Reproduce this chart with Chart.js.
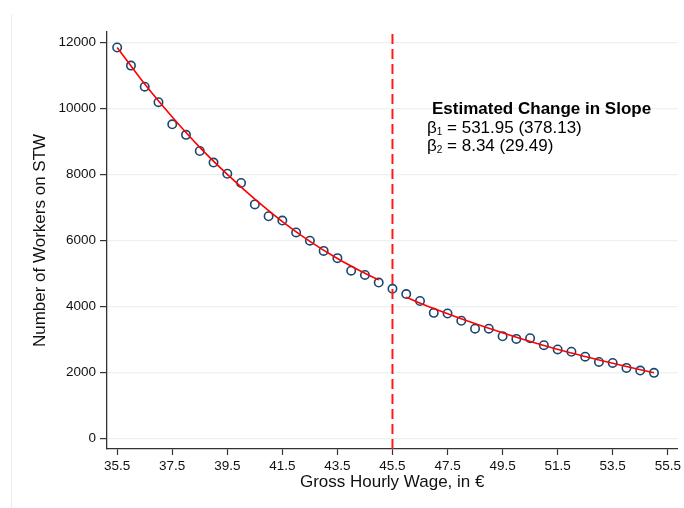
<!DOCTYPE html>
<html>
<head>
<meta charset="utf-8">
<script src="https://cdn.jsdelivr.net/npm/chart.js@4/dist/chart.umd.min.js"></script>
<style>
  body { margin: 0; background: #fff; }
  canvas { display: block; }
</style>
</head>
<body>
<canvas id="stwChart" width="684" height="508"></canvas>
<script>
// binned wage (x) and number of workers on short-time work (y)
const wage = [35.5, 36, 36.5, 37, 37.5, 38, 38.5, 39, 39.5, 40,
  40.5, 41, 41.5, 42, 42.5, 43, 43.5, 44, 44.5, 45,
  45.5, 46, 46.5, 47, 47.5, 48, 48.5, 49, 49.5, 50,
  50.5, 51, 51.5, 52, 52.5, 53, 53.5, 54, 54.5, 55];
const workers = [11850, 11300, 10660, 10190, 9520, 9200, 8710, 8360, 8020, 7740,
  7090, 6730, 6600, 6240, 5990, 5680, 5460, 5080, 4950, 4720,
  4530, 4370, 4160, 3800, 3780, 3560, 3320, 3320, 3090, 3010,
  3030, 2820, 2690, 2620, 2470, 2310, 2280, 2130, 2050, 1980];

// fitted curves left and right of the cutoff
const fitLeftX = [35.5, 36.5, 37.5, 38.5, 39.5, 40.5, 41.5, 42.5, 43.5, 44.5, 45];
const fitLeftY = [11850, 10740, 9740, 8820, 8000, 7250, 6570, 5970, 5450, 5000, 4800];
const fitRightX = [46, 47, 48, 49, 50, 51, 52, 53, 54, 55];
const fitRightY = [4270, 3930, 3620, 3330, 3060, 2810, 2580, 2370, 2170, 1985];

const cutoff = 45.5;
const xTicks = [35.5, 37.5, 39.5, 41.5, 43.5, 45.5, 47.5, 49.5, 51.5, 53.5, 55.5];
const yTicks = [0, 2000, 4000, 6000, 8000, 10000, 12000];
const yMin = -330, yMax = 12320;
const xMin = 35.13, xMax = 55.85;

const FONT = "'Liberation Sans', Arial, sans-serif";
const toXY = (xs, ys) => xs.map((x, i) => ({ x: x, y: ys[i] }));

// faint frame line on the left + the estimates text box
const extras = {
  id: 'extras',
  beforeDraw(chart) {
    const ctx = chart.ctx;
    ctx.save();
    ctx.fillStyle = '#fff';
    ctx.fillRect(0, 0, chart.width, chart.height);
    ctx.strokeStyle = '#e9eff1';
    ctx.lineWidth = 1;
    ctx.beginPath();
    ctx.moveTo(11.5, 14);
    ctx.lineTo(11.5, 508);
    ctx.stroke();
    ctx.restore();
  },
  afterDraw(chart) {
    const ctx = chart.ctx;
    ctx.save();
    ctx.fillStyle = '#000';
    ctx.textBaseline = 'alphabetic';
    ctx.font = 'bold 17px ' + FONT;
    ctx.fillText('Estimated Change in Slope', 432, 114);
    const rows = [['1', ' = 531.95 (378.13)', 133], ['2', ' = 8.34 (29.49)', 151]];
    rows.forEach(r => {
      let x = 427;
      ctx.font = '17px ' + FONT;
      ctx.fillText('β', x, r[2]);
      x += ctx.measureText('β').width;
      ctx.font = '10px ' + FONT;
      ctx.fillText(r[0], x, r[2] + 2);
      x += ctx.measureText(r[0]).width;
      ctx.font = '17px ' + FONT;
      ctx.fillText(r[1], x, r[2]);
    });
    ctx.restore();
  }
};

new Chart(document.getElementById('stwChart'), {
  type: 'scatter',
  data: {
    datasets: [
      {
        label: 'cutoff',
        data: [{ x: cutoff, y: yMin }, { x: cutoff, y: yMax }],
        showLine: true,
        borderColor: '#ff1a1a',
        borderWidth: 2,
        borderDash: [10, 5],
        pointRadius: 0,
        order: 0
      },
      {
        label: 'fit left',
        data: toXY(fitLeftX, fitLeftY),
        showLine: true,
        borderColor: '#ff0000',
        borderWidth: 1.6,
        cubicInterpolationMode: 'monotone',
        pointRadius: 0,
        order: 1
      },
      {
        label: 'fit right',
        data: toXY(fitRightX, fitRightY),
        showLine: true,
        borderColor: '#ff0000',
        borderWidth: 1.6,
        cubicInterpolationMode: 'monotone',
        pointRadius: 0,
        order: 1
      },
      {
        label: 'workers',
        data: toXY(wage, workers),
        pointStyle: 'circle',
        pointRadius: 4.2,
        pointBorderWidth: 1.6,
        pointBorderColor: '#1a476f',
        pointBackgroundColor: 'rgba(0,0,0,0)',
        order: 2
      }
    ]
  },
  options: {
    responsive: false,
    animation: false,
    layout: { padding: { top: 32, right: 4, left: 0, bottom: 0 } },
    plugins: { legend: { display: false }, tooltip: { enabled: false } },
    scales: {
      x: {
        type: 'linear',
        min: xMin,
        max: xMax,
        afterBuildTicks: s => { s.ticks = xTicks.map(v => ({ value: v })); },
        afterFit: s => { s.height = 59; },
        grid: { drawOnChartArea: false, drawTicks: true, tickLength: 6, tickColor: '#333', tickWidth: 1.2 },
        border: { display: true, color: '#333', width: 1.3 },
        ticks: {
          color: '#111',
          font: { family: FONT, size: 13.5 },
          padding: 3,
          maxRotation: 0,
          autoSkip: false,
          callback: v => v.toFixed(1)
        },
        title: {
          display: true,
          text: 'Gross Hourly Wage, in €',
          color: '#111',
          font: { family: FONT, size: 17 },
          padding: { top: 0, bottom: 15 }
        }
      },
      y: {
        min: yMin,
        max: yMax,
        afterBuildTicks: s => { s.ticks = yTicks.map(v => ({ value: v })); },
        afterFit: s => { s.width = 107; },
        grid: { color: '#eaf1f3', lineWidth: 1.2, drawTicks: true, tickLength: 7, tickColor: '#333', tickWidth: 1.2 },
        border: { display: true, color: '#333', width: 1.3 },
        ticks: {
          color: '#111',
          font: { family: FONT, size: 13.5 },
          padding: 4,
          callback: v => String(v)
        },
        title: {
          display: true,
          text: 'Number of Workers on STW',
          color: '#111',
          font: { family: FONT, size: 17 },
          padding: { top: 30, bottom: 0 }
        }
      }
    }
  },
  plugins: [extras]
});
</script>
</body>
</html>
